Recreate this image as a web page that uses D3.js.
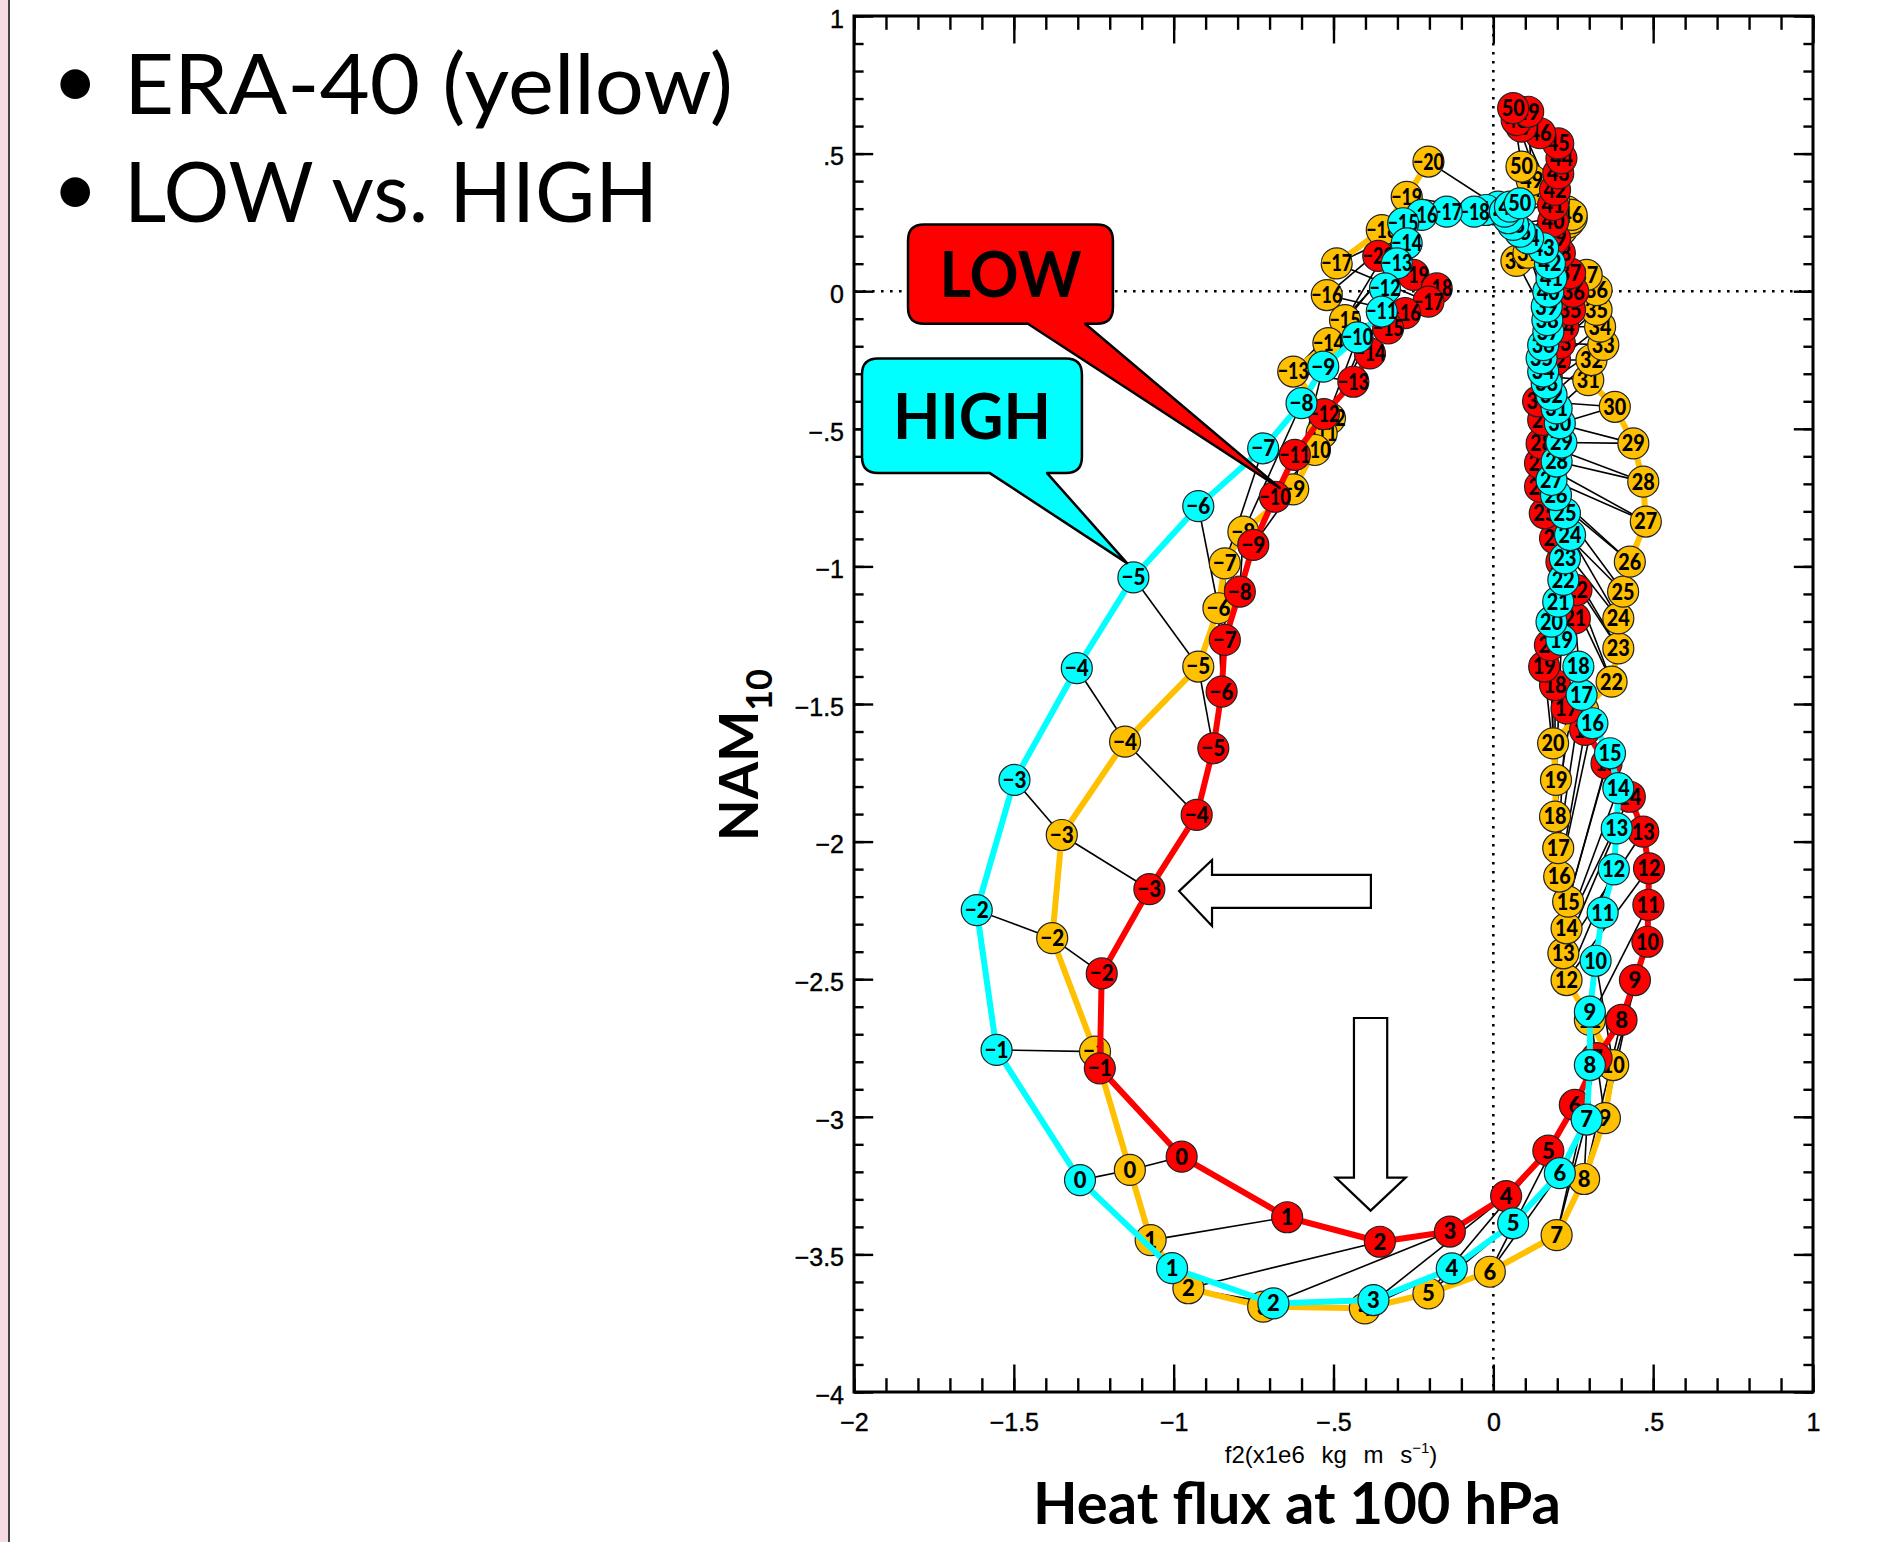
<!DOCTYPE html>
<html>
<head>
<meta charset="utf-8">
<script src="https://cdn.jsdelivr.net/npm/d3@7"></script>
<style>
  body { margin: 0; background: #fff; }
  svg { display: block; }
</style>
</head>
<body>
<div id="chart"></div>
<script>
// day labels (lag in days) shared by the three trajectories
const days = [-20,-19,-18,-17,-16,-15,-14,-13,-12,-11,-10,-9,-8,-7,-6,-5,-4,-3,-2,-1,
  0,1,2,3,4,5,6,7,8,9,10,11,12,13,14,15,16,17,18,19,20,21,22,23,24,25,26,27,28,29,30,
  31,32,33,34,35,36,37,38,39,40,41,42,43,44,45,46,47,48,49,50];

// ERA-40 (yellow): heat flux f2 and NAM10
const eraX = [-0.203,-0.271,-0.349,-0.490,-0.521,-0.464,-0.516,-0.626,-0.511,-0.537,-0.558,-0.626,-0.782,-0.840,-0.860,-0.923,-1.152,-1.350,-1.380,-1.246,
  -1.137,-1.072,-0.954,-0.720,-0.402,-0.203,-0.011,0.198,0.284,0.349,0.375,0.302,0.229,0.219,0.229,0.234,0.206,0.203,0.193,0.196,0.187,
  0.281,0.370,0.391,0.391,0.406,0.427,0.477,0.469,0.438,0.380,0.297,0.307,0.344,0.334,0.323,0.323,0.292,0.072,0.110,0.150,
  0.190,0.215,0.235,0.245,0.230,0.245,0.190,0.150,0.120,0.088];
const eraY = [0.471,0.343,0.222,0.101,-0.014,-0.105,-0.189,-0.292,-0.462,-0.516,-0.577,-0.720,-0.874,-0.989,-1.152,-1.364,-1.637,-1.976,-2.351,-2.763,
  -3.193,-3.448,-3.623,-3.690,-3.696,-3.642,-3.563,-3.430,-3.226,-3.005,-2.812,-2.648,-2.503,-2.406,-2.315,-2.218,-2.127,-2.024,-1.909,-1.776,-1.643,
  -1.522,-1.419,-1.298,-1.189,-1.092,-0.983,-0.837,-0.692,-0.553,-0.420,-0.323,-0.250,-0.195,-0.129,-0.068,0.004,0.059,0.110,0.140,0.170,
  0.200,0.225,0.250,0.265,0.290,0.277,0.330,0.370,0.404,0.453];

// LOW (red)
const lowX = [-0.360,-0.250,-0.177,-0.203,-0.276,-0.329,-0.386,-0.438,-0.530,-0.621,-0.683,-0.751,-0.793,-0.840,-0.850,-0.876,-0.928,-1.076,-1.225,-1.231,
  -0.975,-0.645,-0.355,-0.136,0.040,0.172,0.255,0.323,0.401,0.443,0.482,0.485,0.487,0.469,0.427,0.354,0.287,0.229,0.193,0.159,0.177,
  0.255,0.260,0.213,0.193,0.161,0.146,0.146,0.151,0.156,0.140,0.167,0.193,0.208,0.219,0.240,0.250,0.240,0.208,0.193,0.187,
  0.187,0.193,0.203,0.213,0.203,0.146,0.088,0.073,0.109,0.062];
const lowY = [0.128,0.059,0.010,-0.038,-0.080,-0.135,-0.226,-0.329,-0.447,-0.595,-0.747,-0.922,-1.092,-1.267,-1.455,-1.661,-1.903,-2.173,-2.479,-2.824,
  -3.145,-3.365,-3.454,-3.417,-3.288,-3.123,-2.957,-2.787,-2.648,-2.503,-2.364,-2.230,-2.097,-1.964,-1.837,-1.716,-1.594,-1.516,-1.431,-1.364,-1.286,
  -1.189,-1.086,-0.983,-0.898,-0.807,-0.710,-0.625,-0.553,-0.468,-0.400,-0.310,-0.250,-0.189,-0.129,-0.068,-0.002,0.065,0.138,0.192,0.253,
  0.313,0.368,0.428,0.483,0.537,0.574,0.598,0.622,0.652,0.665];

// HIGH (cyan)
const highX = [0.015,-0.023,-0.060,-0.146,-0.224,-0.282,-0.271,-0.302,-0.339,-0.349,-0.425,-0.532,-0.600,-0.720,-0.923,-1.126,-1.303,-1.498,-1.616,-1.554,
  -1.293,-1.005,-0.688,-0.375,-0.130,0.062,0.208,0.292,0.302,0.302,0.320,0.342,0.377,0.386,0.391,0.365,0.310,0.276,0.266,0.213,0.182,
  0.203,0.219,0.224,0.240,0.224,0.196,0.182,0.198,0.213,0.208,0.198,0.182,0.167,0.156,0.151,0.156,0.172,0.169,0.167,0.172,
  0.182,0.177,0.156,0.109,0.083,0.062,0.047,0.036,0.052,0.083];
const highY = [0.307,0.295,0.289,0.289,0.277,0.247,0.174,0.101,0.010,-0.074,-0.168,-0.274,-0.407,-0.571,-0.781,-1.040,-1.370,-1.776,-2.249,-2.757,
  -3.230,-3.550,-3.678,-3.666,-3.551,-3.387,-3.205,-3.010,-2.812,-2.618,-2.433,-2.258,-2.101,-1.952,-1.806,-1.679,-1.570,-1.467,-1.364,-1.267,-1.201,
  -1.128,-1.049,-0.971,-0.886,-0.807,-0.741,-0.686,-0.619,-0.550,-0.480,-0.426,-0.377,-0.335,-0.292,-0.244,-0.196,-0.147,-0.105,-0.056,-0.002,
  0.047,0.101,0.156,0.192,0.216,0.241,0.265,0.289,0.307,0.319];

// axis ticks and labels
const xTicks = [-2, -1.5, -1, -0.5, 0, 0.5, 1];
const xTickLabels = ["\u22122", "\u22121.5", "\u22121", "\u2212.5", "0", ".5", "1"];
const yTicks = [1, 0.5, 0, -0.5, -1, -1.5, -2, -2.5, -3, -3.5, -4];
const yTickLabels = ["1", ".5", "0", "\u2212.5", "\u22121", "\u22121.5", "\u22122", "\u22122.5", "\u22123", "\u22123.5", "\u22124"];

const bullets = ["ERA-40 (yellow)", "LOW vs. HIGH"];

const width = 1893, height = 1542;
const plot = { left: 854, right: 1813, top: 16, bottom: 1392 };

const x = d3.scaleLinear().domain([-2, 1]).range([plot.left, plot.right]);
const y = d3.scaleLinear().domain([-4, 1]).range([plot.bottom, plot.top]);

const svg = d3.select("#chart").append("svg")
  .attr("width", width)
  .attr("height", height);

// slide edge on the left
svg.append("rect").attr("x", 0).attr("y", 0).attr("width", 8).attr("height", height).attr("fill", "#f6dbe2");
svg.append("line").attr("x1", 9).attr("x2", 9).attr("y1", 0).attr("y2", height)
  .attr("stroke", "#444").attr("stroke-width", 2);

// bullet text
const bl = svg.append("g").attr("font-family", "Lato, 'Open Sans', sans-serif").attr("fill", "#000");
bullets.forEach((t, i) => {
  const base = [114, 222][i];
  bl.append("text").attr("x", 52).attr("y", base - 6).attr("font-size", 80).text("\u2022");
  bl.append("text").attr("x", 124).attr("y", base).attr("font-size", 84)
    .attr("textLength", [609, 534][i]).attr("lengthAdjust", "spacingAndGlyphs").text(t);
});

// zero lines (dotted)
svg.append("line")
  .attr("x1", x(0)).attr("x2", x(0)).attr("y1", y(1)).attr("y2", y(-4))
  .attr("stroke", "#000").attr("stroke-width", 2.6).attr("stroke-dasharray", "2.6 6.4");
svg.append("line")
  .attr("x1", x(-2)).attr("x2", x(1)).attr("y1", y(0)).attr("y2", y(0))
  .attr("stroke", "#000").attr("stroke-width", 2.6).attr("stroke-dasharray", "2.6 6.4");

// axes: inward major + minor ticks on all four sides
const majorX = 27.5, minorX = 13.8, majorY = 19.2, minorY = 9.6;
const xMinor = x.ticks(30), yMinor = y.ticks(50);

function axisGroup(axis, tx, ty) {
  const g = svg.append("g").attr("transform", `translate(${tx},${ty})`).call(axis);
  g.select(".domain").remove();
  g.selectAll("line").attr("stroke", "#000").attr("stroke-width", 2.4);
  return g;
}

axisGroup(d3.axisBottom(x).tickValues(xMinor).tickSize(-minorX).tickFormat(""), 0, plot.bottom);
axisGroup(d3.axisTop(x).tickValues(xMinor).tickSize(-minorX).tickFormat(""), 0, plot.top);
axisGroup(d3.axisLeft(y).tickValues(yMinor).tickSize(-minorY).tickFormat(""), plot.left, 0);
axisGroup(d3.axisRight(y).tickValues(yMinor).tickSize(-minorY).tickFormat(""), plot.right, 0);

const xb = axisGroup(d3.axisBottom(x).tickValues(xTicks).tickSize(-majorX).tickPadding(21)
  .tickFormat((d, i) => xTickLabels[i]), 0, plot.bottom);
axisGroup(d3.axisTop(x).tickValues(xTicks).tickSize(-majorX).tickFormat(""), 0, plot.top);
const yl = axisGroup(d3.axisLeft(y).tickValues(yTicks).tickSize(-majorY).tickPadding(10)
  .tickFormat((d, i) => yTickLabels[i]), plot.left, 0);
axisGroup(d3.axisRight(y).tickValues(yTicks).tickSize(-majorY).tickFormat(""), plot.right, 0);

[xb, yl].forEach(g => g.selectAll("text")
  .attr("font-family", "'Liberation Sans', Arial, sans-serif")
  .attr("font-size", 25).attr("fill", "#000")
  .attr("stroke", "#000").attr("stroke-width", 0.4));
yl.selectAll("text").attr("dy", "0.45em");

// frame
svg.append("rect")
  .attr("x", plot.left).attr("y", plot.top)
  .attr("width", plot.right - plot.left).attr("height", plot.bottom - plot.top)
  .attr("fill", "none").attr("stroke", "#000").attr("stroke-width", 3);

// series
const series = [
  { name: "ERA-40", xs: eraX, ys: eraY, color: "#FFC000" },
  { name: "LOW", xs: lowX, ys: lowY, color: "#FF0000" },
  { name: "HIGH", xs: highX, ys: highY, color: "#00FFFF" }
];
series.forEach(s => { s.points = days.map((d, i) => ({ day: d, x: s.xs[i], y: s.ys[i] })); });

// thin black lines joining the same day: HIGH-ERA and LOW-ERA
const links = [];
days.forEach((d, i) => {
  links.push({ a: series[2].points[i], b: series[0].points[i] });
  links.push({ a: series[1].points[i], b: series[0].points[i] });
});
svg.append("g")
  .attr("stroke", "#000").attr("stroke-width", 1.6)
  .selectAll("line").data(links).join("line")
  .attr("x1", d => x(d.a.x)).attr("y1", d => y(d.a.y))
  .attr("x2", d => x(d.b.x)).attr("y2", d => y(d.b.y));

const line = d3.line().x(d => x(d.x)).y(d => y(d.y));
const fmt = d => d < 0 ? "\u2212" + Math.abs(d) : String(d);

series.forEach(s => {
  const g = svg.append("g").attr("class", "series");
  g.append("path").datum(s.points)
    .attr("d", line).attr("fill", "none")
    .attr("stroke", s.color).attr("stroke-width", 6).attr("stroke-linejoin", "round");
  const pt = g.selectAll("g.pt").data(s.points).join("g")
    .attr("class", "pt")
    .attr("transform", d => `translate(${x(d.x)},${y(d.y)})`);
  pt.append("circle").attr("r", 15.5)
    .attr("fill", s.color).attr("stroke", "#222").attr("stroke-width", 1.2);
  pt.append("text")
    .attr("text-anchor", "middle").attr("dy", "0.36em")
    .attr("font-family", "Lato, 'DejaVu Sans', sans-serif").attr("font-weight", 900)
    .attr("font-size", 22).attr("fill", "#000")
    .each(function (d) {
      const t = fmt(d.day);
      const el = d3.select(this).text(t);
      if (t.length >= 3) el.attr("textLength", 31).attr("lengthAdjust", "spacingAndGlyphs");
      else if (t.length === 2) el.attr("textLength", d.day < 0 ? 24 : 23).attr("lengthAdjust", "spacingAndGlyphs");
    });
});

// annotations, anchored in data units
function callout(box, tail, tip, fill, label, textLen) {
  const x0 = x(box[0]), x1 = x(box[1]), y0 = y(box[2]), y1 = y(box[3]), r = 16;
  const tb0 = x(tail[0]), tb1 = x(tail[1]);
  const p = `M${x0 + r},${y0} H${x1 - r} Q${x1},${y0} ${x1},${y0 + r} V${y1 - r} Q${x1},${y1} ${x1 - r},${y1}` +
    ` H${tb1} L${x(tip[0])},${y(tip[1])} L${tb0},${y1} H${x0 + r} Q${x0},${y1} ${x0},${y1 - r} V${y0 + r} Q${x0},${y0} ${x0 + r},${y0} Z`;
  svg.append("path").attr("d", p).attr("fill", fill)
    .attr("stroke", "#000").attr("stroke-width", 2.5).attr("stroke-linejoin", "round");
  svg.append("text")
    .attr("x", (x0 + x1) / 2).attr("y", (y0 + y1) / 2 + 23)
    .attr("text-anchor", "middle")
    .attr("font-family", "Lato, 'Open Sans', sans-serif").attr("font-weight", 700)
    .attr("font-size", 64).attr("fill", "#000")
    .attr("textLength", textLen).attr("lengthAdjust", "spacingAndGlyphs")
    .text(label);
}
callout([-1.831, -1.190, 0.242, -0.118], [-1.456, -1.277], [-0.668, -0.715], "#FF0000", "LOW", 142);
callout([-1.975, -1.287, -0.245, -0.661], [-1.575, -1.396], [-1.146, -0.988], "#00FFFF", "HIGH", 158);

// hollow arrows
const la = { tip: [-0.983, -2.180], headX: -0.880, headY: [-2.067, -2.307], shaftY: [-2.121, -2.241], tailX: -0.383 };
svg.append("path")
  .attr("d", `M${x(la.tip[0])},${y(la.tip[1])} L${x(la.headX)},${y(la.headY[0])} L${x(la.headX)},${y(la.shaftY[0])}` +
    ` L${x(la.tailX)},${y(la.shaftY[0])} L${x(la.tailX)},${y(la.shaftY[1])} L${x(la.headX)},${y(la.shaftY[1])}` +
    ` L${x(la.headX)},${y(la.headY[1])} Z`)
  .attr("fill", "#fff").attr("stroke", "#000").attr("stroke-width", 2.2);

const da = { tip: [-0.384, -3.341], headY: -3.221, headX: [-0.493, -0.274], shaftX: [-0.436, -0.332], topY: -2.641 };
svg.append("path")
  .attr("d", `M${x(da.tip[0])},${y(da.tip[1])} L${x(da.headX[0])},${y(da.headY)} L${x(da.shaftX[0])},${y(da.headY)}` +
    ` L${x(da.shaftX[0])},${y(da.topY)} L${x(da.shaftX[1])},${y(da.topY)} L${x(da.shaftX[1])},${y(da.headY)}` +
    ` L${x(da.headX[1])},${y(da.headY)} Z`)
  .attr("fill", "#fff").attr("stroke", "#000").attr("stroke-width", 2.2);

// axis titles
const yt = svg.append("text")
  .attr("transform", `translate(758,755) rotate(-90)`)
  .attr("text-anchor", "middle")
  .attr("font-family", "Lato, 'Open Sans', sans-serif").attr("font-weight", 700)
  .attr("font-size", 54).attr("fill", "#000");
yt.append("tspan").text("NAM");
yt.append("tspan").attr("font-size", 36).attr("dy", 14).text("10");

const xt = svg.append("text")
  .attr("x", 1331).attr("y", 1463)
  .attr("text-anchor", "middle")
  .attr("font-family", "'Liberation Sans', Arial, sans-serif")
  .attr("font-size", 24).attr("word-spacing", 10).attr("fill", "#000");
xt.append("tspan").text("f2(x1e6 kg m s");
xt.append("tspan").attr("font-size", 15).attr("dy", -10).text("\u22121");
xt.append("tspan").attr("dy", 10).text(")");

svg.append("text")
  .attr("x", 1297).attr("y", 1524)
  .attr("text-anchor", "middle")
  .attr("font-family", "Lato, 'Open Sans', sans-serif").attr("font-weight", 700)
  .attr("font-size", 58).attr("fill", "#000")
  .attr("textLength", 528).attr("lengthAdjust", "spacingAndGlyphs")
  .text("Heat flux at 100 hPa");
</script>
</body>
</html>
